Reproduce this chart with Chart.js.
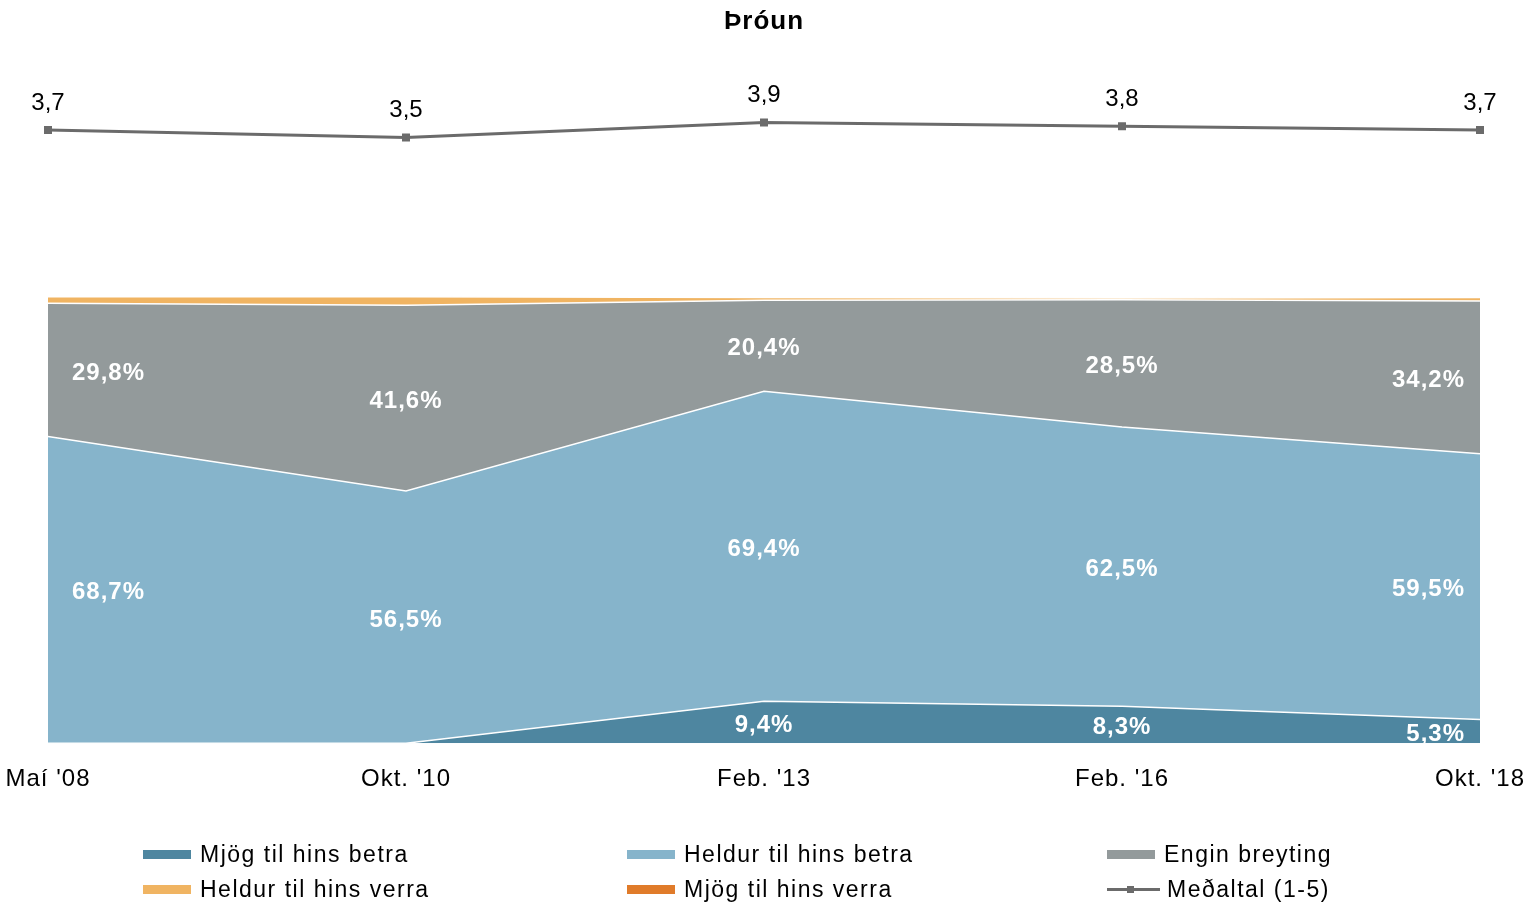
<!DOCTYPE html>
<html>
<head>
<meta charset="utf-8">
<script src="https://cdn.jsdelivr.net/npm/chart.js@4/dist/chart.umd.min.js"></script>
<style>
    body { margin: 0; background: #fff; }
    #wrap { position: relative; width: 1537px; height: 908px; }
    #legend { position: absolute; left: 0; top: 0; width: 1537px; height: 908px; pointer-events: none;
              font-family: "Liberation Sans", Arial, sans-serif; font-size: 23px; letter-spacing: 1.5px; color: #000; }
    .item { position: absolute; height: 30px; display: flex; align-items: center; white-space: nowrap; }
    .swatch { display: inline-block; width: 48px; height: 9px; margin-right: 9px; }
    .lineswatch { position: relative; display: inline-block; width: 53px; height: 9px; margin-right: 7px; }
    .lineswatch i { position: absolute; left: 0; right: 0; top: 3px; height: 3px; }
    .lineswatch b { position: absolute; left: 20px; top: 1px; width: 7px; height: 7px; }
</style>
</head>
<body>
<div id="wrap">
    <canvas id="grafico" width="1537" height="908"></canvas>
    <div id="legend"></div>
</div>
<script>
// datos
const periodos = ["Maí '08", "Okt. '10", "Feb. '13", "Feb. '16", "Okt. '18"];
const mjogBetra = [0, 0, 9.4, 8.3, 5.3];
const heldurBetra = [68.7, 56.5, 69.4, 62.5, 59.5];
const enginBreyting = [29.8, 41.6, 20.4, 28.5, 34.2];
const heldurVerra = [1.5, 1.9, 0.6, 0.4, 0.8];
const mjogVerra = [0, 0, 0, 0, 0];
const medaltal = [3.7, 3.5, 3.9, 3.8, 3.7];

const nombres = ['Mjög til hins betra', 'Heldur til hins betra', 'Engin breyting',
                 'Heldur til hins verra', 'Mjög til hins verra', 'Meðaltal (1-5)'];
const colores = ['#4e86a0', '#86b4cb', '#939a9b', '#f0b462', '#e07b2a', '#6b6b6b'];

const FONT = '"Liberation Sans", Arial, sans-serif';

function fmt(v) {
    return v.toFixed(1).replace('.', ',');
}

// etiquetas blancas dentro de las areas
const etiquetasAreas = {
    id: 'etiquetasAreas',
    afterDatasetsDraw(chart) {
        const ctx = chart.ctx;
        const a = chart.chartArea;
        const base = chart.scales.y.getPixelForValue(0);
        const ultimo = periodos.length - 1;
        ctx.save();
        ctx.beginPath();
        ctx.rect(a.left, a.top, a.right - a.left, a.bottom - a.top);
        ctx.clip();
        ctx.font = 'bold 24px ' + FONT;
        ctx.letterSpacing = '1px';
        ctx.fillStyle = '#fff';
        ctx.textBaseline = 'middle';
        [0, 1, 2].forEach(di => {
            const meta = chart.getDatasetMeta(di);
            const prev = di > 0 ? chart.getDatasetMeta(di - 1) : null;
            chart.data.datasets[di].data.forEach((v, i) => {
                if (!v) return;
                const pt = meta.data[i];
                const abajo = prev ? prev.data[i].y : base;
                const y = (pt.y + abajo) / 2 + 3;
                let x = pt.x;
                if (i === 0) { ctx.textAlign = 'left'; x += 24; }
                else if (i === ultimo) { ctx.textAlign = 'right'; x -= 15; }
                else { ctx.textAlign = 'center'; }
                ctx.fillText(fmt(v) + '%', x, y);
            });
        });
        ctx.restore();
    }
};

// valores del promedio sobre la linea
const etiquetasLinea = {
    id: 'etiquetasLinea',
    afterDatasetsDraw(chart) {
        const ctx = chart.ctx;
        const meta = chart.getDatasetMeta(5);
        ctx.save();
        ctx.font = '24px ' + FONT;
        ctx.letterSpacing = '0px';
        ctx.fillStyle = '#000';
        ctx.textAlign = 'center';
        ctx.textBaseline = 'middle';
        medaltal.forEach((v, i) => {
            const pt = meta.data[i];
            ctx.fillText(fmt(v), pt.x, pt.y - 27);
        });
        ctx.restore();
    }
};

// espaciado de letras para ejes y titulo
const espaciado = {
    id: 'espaciado',
    beforeLayout(chart) { chart.ctx.letterSpacing = '1px'; },
    beforeDraw(chart) { chart.ctx.letterSpacing = '1px'; }
};

function serie(i, datos, relleno) {
    return {
        label: nombres[i],
        data: datos,
        backgroundColor: colores[i],
        borderColor: '#ffffff',
        borderWidth: 1.5,
        pointRadius: 0,
        fill: relleno,
        tension: 0,
        yAxisID: 'y'
    };
}

const ctx = document.getElementById('grafico').getContext('2d');
const chart = new Chart(ctx, {
    type: 'line',
    data: {
        labels: periodos,
        datasets: [
            serie(0, mjogBetra, 'origin'),
            serie(1, heldurBetra, '-1'),
            serie(2, enginBreyting, '-1'),
            serie(3, heldurVerra, '-1'),
            serie(4, mjogVerra, '-1'),
            {
                label: nombres[5],
                data: medaltal,
                borderColor: colores[5],
                backgroundColor: colores[5],
                borderWidth: 3,
                pointStyle: 'rect',
                pointRadius: 3.5,
                fill: false,
                tension: 0,
                yAxisID: 'y2'
            }
        ]
    },
    options: {
        responsive: false,
        animation: false,
        layout: { padding: { left: 48, right: 57, top: 0, bottom: 92 } },
        plugins: {
            legend: { display: false },
            tooltip: { enabled: false },
            title: {
                display: true,
                text: 'Þróun',
                color: '#000',
                font: { family: FONT, size: 26, weight: 'bold' },
                padding: { top: 6, bottom: 21 }
            }
        },
        scales: {
            x: {
                offset: false,
                grid: { display: false, drawTicks: false },
                border: { display: false },
                ticks: {
                    color: '#000',
                    font: { family: FONT, size: 24 },
                    padding: 22,
                    maxRotation: 0,
                    autoSkip: false
                },
                afterFit(scale) {
                    // los extremos quedan fijos por el padding del layout
                    scale.paddingLeft = 0;
                    scale.paddingRight = 0;
                }
            },
            y: {
                display: false,
                stacked: true,
                min: 0,
                max: 153.4
            },
            y2: {
                display: false,
                stacked: false,
                min: -12.58,
                max: 5.607
            }
        }
    },
    plugins: [espaciado, etiquetasAreas, etiquetasLinea]
});

// leyenda en tres columnas
const columnas = [143, 627, 1107];
const filas = [854, 889];
const leyenda = document.getElementById('legend');
nombres.forEach((nombre, i) => {
    const item = document.createElement('div');
    item.className = 'item';
    const col = i % 3;
    const fila = Math.floor(i / 3);
    item.style.left = columnas[col] + 'px';
    item.style.top = (filas[fila] - 15) + 'px';
    if (i === 5) {
        item.innerHTML = '<span class="lineswatch"><i style="background:' + colores[i] + '"></i><b style="background:' + colores[i] + '"></b></span>';
    } else {
        item.innerHTML = '<span class="swatch" style="background:' + colores[i] + '"></span>';
    }
    item.appendChild(document.createTextNode(nombre));
    leyenda.appendChild(item);
});
</script>
</body>
</html>
